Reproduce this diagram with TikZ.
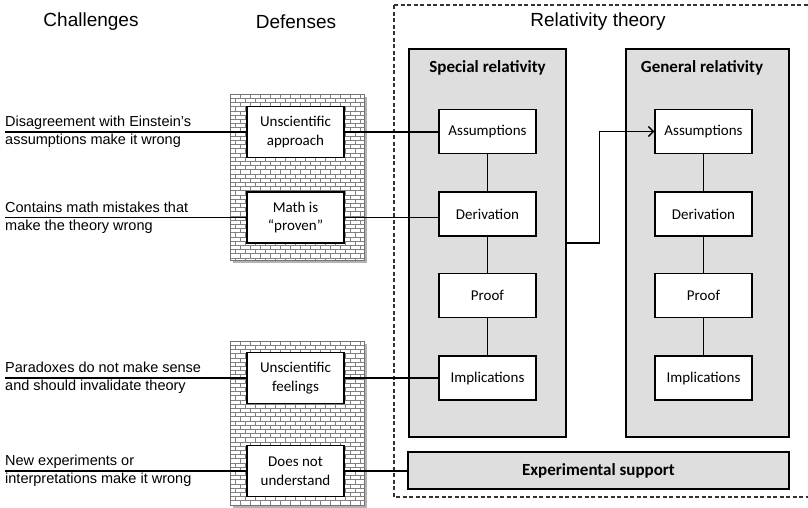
\documentclass[tikz,border=0pt]{standalone}
\usepackage{fontspec}
\setmainfont{Liberation Sans}
\newfontfamily\boxfont{Carlito}
\usetikzlibrary{arrows.meta}

\tikzset{
  heading/.style={inner sep=0pt, font=\fontsize{19}{22}\selectfont},
  challenge/.style={anchor=west, align=left, inner sep=0pt, font=\fontsize{14.5}{18}\selectfont},
  whitebox/.style={draw, line width=1.3pt, fill=white, minimum width=97pt, minimum height=44pt,
                   inner sep=0pt, align=center, font=\boxfont\fontsize{15}{18.5}\selectfont},
  defbox/.style={whitebox, minimum height=51pt},
  graybox/.style={draw, line width=1.3pt, fill=black!13, inner sep=0pt},
  boxtitle/.style={inner sep=0pt, font=\boxfont\bfseries\fontsize{17}{20}\selectfont},
  conn/.style={line width=1.2pt},
  mortar/.style={draw=black!50, line width=0.55pt},
  frame/.style={draw=black!80, line width=1.1pt, dash pattern=on 4pt off 2.5pt},
}

% A brick wall: shadow, white bricks, gray mortar and a gray rim
\newcommand\brickwall[4]{%
  \fill[black!30] (#1+2.5,#2+2.5) rectangle (#3+2.5,#4+2.5);
  \fill[white] (#1,#2) rectangle (#3,#4);
  \begin{scope}
    \clip (#1,#2) rectangle (#3,#4);
    \foreach \r in {0,...,40}{
      \pgfmathsetmacro\yy{#2+\r*4.2}
      \pgfmathsetmacro\off{mod(\r,2)*5}
      \draw[mortar] (#1,\yy) -- (#3,\yy);
      \foreach \c in {0,...,14}{
        \draw[mortar] ({#1+\c*10+\off},\yy) -- ++(0,4.2);
      }
    }
  \end{scope}
  \draw[black!55, line width=0.9pt] (#1,#2) rectangle (#3,#4);
}

\begin{document}
\begin{tikzpicture}[x=1pt, y=-1pt]
  \useasboundingbox (0,0) rectangle (808,507);

  % column headings
  \node[heading] (hch) at (91,22) {Challenges};
  \node[heading] (hdf) at (296,22) {Defenses};
  \node[heading] (hrt) at (598,22) {Relativity theory};

  % dashed frame around the theory
  \draw[frame] (394,5) rectangle (814,497);

  % the two walls of defenses
  \brickwall{230}{94}{364}{260}
  \brickwall{230}{341}{364}{505}

  % theory blocks
  \node[graybox, minimum width=157pt, minimum height=388pt] (sr) at (487.5,243) {};
  \node[graybox, minimum width=163pt, minimum height=388pt] (gr) at (707.5,243) {};
  \node[boxtitle] (srt) at (487.5,68) {Special relativity};
  \node[boxtitle] (grt) at (702,68) {General relativity};
  \node[graybox, minimum width=381pt, minimum height=37pt, boxtitle] (ex) at (598.5,470.5) {Experimental support};

  % steps of special relativity
  \node[whitebox] (sa) at (487.5,131.5) {Assumptions};
  \node[whitebox] (sd) at (487.5,214) {Derivation};
  \node[whitebox] (sp) at (487.5,295.5) {Proof};
  \node[whitebox] (si) at (487.5,378) {Implications};

  % steps of general relativity
  \node[whitebox] (ga) at (703.5,131.5) {Assumptions};
  \node[whitebox] (gd) at (703.5,214) {Derivation};
  \node[whitebox] (gp) at (703.5,295.5) {Proof};
  \node[whitebox] (gi) at (703.5,378) {Implications};

  % defenses
  \node[defbox] (d1) at (295.5,132) {Unscientific\\approach};
  \node[defbox] (d2) at (295.5,217.5) {Math is\\“proven”};
  \node[defbox] (d3) at (295.5,378) {Unscientific\\feelings};
  \node[defbox] (d4) at (295.5,471) {Does not\\understand};

  % challenges
  \node[challenge] (c1) at (5,132) {Disagreement with Einstein’s\\assumptions make it wrong};
  \node[challenge] (c2) at (5,217.5) {Contains math mistakes that\\make the theory wrong};
  \node[challenge] (c3) at (5,378) {Paradoxes do not make sense\\and should invalidate theory};
  \node[challenge] (c4) at (5,471) {New experiments or\\interpretations make it wrong};

  % challenge -> defense -> theory
  \draw[conn] (c1.west) -- (d1.west);
  \draw[conn] (c2.west) -- (d2.west);
  \draw[conn] (c3.west) -- (d3.west);
  \draw[conn] (c4.west) -- (d4.west);
  \draw[conn] (d1.east) -- (d1.east -| sa.west);
  \draw[conn] (d2.east) -- (d2.east -| sd.west);
  \draw[conn] (d3.east) -- (d3.east -| si.west);
  \draw[conn] (d4.east) -- (d4.east -| ex.west);

  % chains of steps
  \draw[conn] (sa) -- (sd);
  \draw[conn] (sd) -- (sp);
  \draw[conn] (sp) -- (si);
  \draw[conn] (ga) -- (gd);
  \draw[conn] (gd) -- (gp);
  \draw[conn] (gp) -- (gi);

  % special relativity leads to general relativity
  \draw[conn, -{Straight Barb[length=5pt, width=10pt, line width=1.4pt]}]
    (sr.east) -- ++(33,0) |- (ga.west);
\end{tikzpicture}
\end{document}
